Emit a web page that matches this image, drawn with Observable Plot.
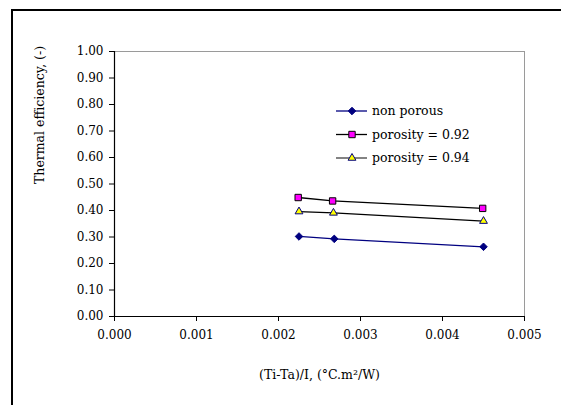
<!DOCTYPE html>
<html>
<head>
<meta charset="utf-8">
<script src="https://cdn.jsdelivr.net/npm/d3@7"></script>
<script src="https://cdn.jsdelivr.net/npm/@observablehq/plot@0.6"></script>
<style>
  html, body { margin: 0; padding: 0; background: #fff; overflow: hidden; }
  #wrap { position: relative; width: 561px; height: 405px; overflow: hidden; }
  #frameTop { position: absolute; left: 11px; top: 9px; width: 550px; height: 2px; background: #000; }
  #frameLeft { position: absolute; left: 11px; top: 9px; width: 2px; height: 396px; background: #000; }
  #chart { position: absolute; left: 0; top: 0; }
</style>
</head>
<body>
<div id="wrap"><div id="frameTop"></div><div id="frameLeft"></div><div id="chart"></div></div>
<script>
// ---- data ----
const seriesNames = ["non porous", "porosity = 0.92", "porosity = 0.94"];
const xNonPorous = [0.00225, 0.00268, 0.00450];
const yNonPorous = [0.302, 0.293, 0.263];
const x092 = [0.00224, 0.00266, 0.00449];
const y092 = [0.449, 0.436, 0.408];
const x094 = [0.00225, 0.00267, 0.00450];
const y094 = [0.396, 0.391, 0.360];
const xTicks = [0, 0.001, 0.002, 0.003, 0.004, 0.005];
const yTicks = [0, 0.1, 0.2, 0.3, 0.4, 0.5, 0.6, 0.7, 0.8, 0.9, 1.0];
const xTitle = "(Ti-Ta)/I, (°C.m²/W)";
const yTitle = "Thermal efficiency, (-)";

const styles = [
  {line: "#000080", fill: "#000080", stroke: "#000080", symbol: "diamond2", r: 3.4},
  {line: "#000000", fill: "#ff00ff", stroke: "#000000", symbol: "square", r: 3.6},
  {line: "#000000", fill: "#ffff00", stroke: "#000080", symbol: "triangle", r: 2.9}
];
const xs = [xNonPorous, x092, x094];
const ys = [yNonPorous, y092, y094];
const data = seriesNames.map((s, i) => xs[i].map((x, j) => ({series: s, x, y: ys[i][j]})));

const font = "DejaVu Serif";
const marks = [];
data.forEach((d, i) => {
  marks.push(Plot.line(d, {x: "x", y: "y", stroke: styles[i].line, strokeWidth: 1.3}));
});
data.forEach((d, i) => {
  marks.push(Plot.dot(d, {x: "x", y: "y", symbol: () => styles[i].symbol, r: styles[i].r,
    fill: styles[i].fill, stroke: styles[i].stroke, strokeWidth: 1}));
});

const plot = Plot.plot({
  width: 561,
  height: 405,
  marginLeft: 114,
  marginRight: 37,
  marginTop: 51,
  marginBottom: 89,
  style: {fontFamily: font, fontSize: "12px", background: "transparent", color: "#000"},
  x: {domain: [0, 0.005], nice: false},
  y: {domain: [0, 1], nice: false},
  symbol: {type: "identity"},
  marks: [
    Plot.ruleY([1], {stroke: "#9a9a9a", strokeWidth: 1}),
    Plot.ruleX([0.005], {stroke: "#9a9a9a", strokeWidth: 1}),
    Plot.axisX({ticks: xTicks, tickFormat: d3.format(".3f"), tickSize: 5, tickPadding: 9, label: null, stroke: "#000", fontSize: 12}),
    Plot.axisY({ticks: yTicks, tickFormat: d3.format(".2f"), tickSize: 5, tickPadding: 6, label: null, stroke: "#000", fontSize: 12}),
    Plot.ruleX([0], {stroke: "#000", strokeWidth: 1.2}),
    Plot.ruleY([0], {stroke: "#000", strokeWidth: 1.2}),
    Plot.text([yTitle], {text: d => d, frameAnchor: "left", rotate: -90, dx: -75, fontSize: 12.5}),
    Plot.text([xTitle], {text: d => d, frameAnchor: "bottom", dy: 62, fontSize: 12.5}),
    ...marks
  ]
});

document.getElementById("chart").appendChild(plot);

// legend (inside plot area, upper right)
const svg = d3.select(plot);
const lg = svg.append("g").attr("font-family", font).attr("font-size", 12.5).attr("text-anchor", "start");
const legendX = 336, legendY0 = 111, legendStep = 23.5;
const symMap = {diamond2: d3.symbolDiamond2, square: d3.symbolSquare, triangle: d3.symbolTriangle};
seriesNames.forEach((name, i) => {
  const yy = legendY0 + i * legendStep;
  const g = lg.append("g");
  g.append("line").attr("x1", legendX).attr("x2", legendX + 31).attr("y1", yy).attr("y2", yy)
    .attr("stroke", i === 2 ? "#404040" : styles[i].line).attr("stroke-width", 1.3);
  g.append("path").attr("transform", `translate(${legendX + 16},${yy})`)
    .attr("d", d3.symbol(symMap[styles[i].symbol], Math.PI * styles[i].r * styles[i].r)())
    .attr("fill", styles[i].fill).attr("stroke", styles[i].stroke).attr("stroke-width", 1);
  g.append("text").attr("x", legendX + 36).attr("y", yy).attr("dy", "0.35em").text(name);
});
</script>
</body>
</html>
